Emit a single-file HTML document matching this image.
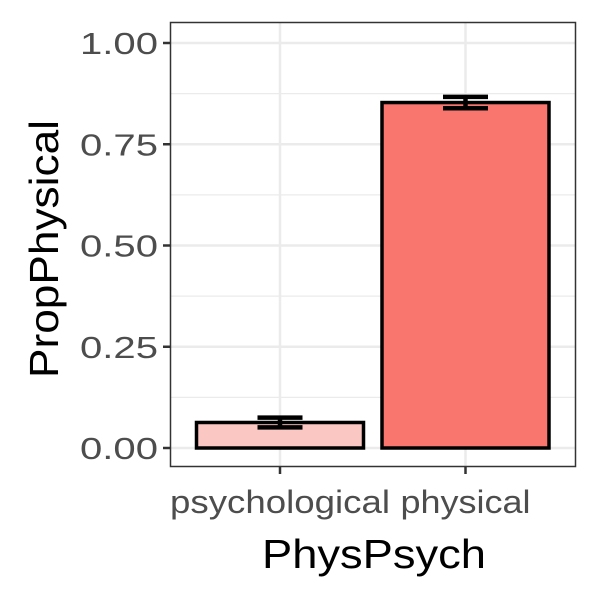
<!DOCTYPE html>
<html><head><meta charset="utf-8"><style>body{margin:0;background:#fff}svg{display:block;font-family:"Liberation Sans",sans-serif}</style></head>
<body>
<svg id="chart" width="600" height="600" viewBox="0 0 600 600">
<rect width="600" height="600" fill="#fff"/>
<g id="grid"></g><g id="bars"></g><g id="axes"></g>
<rect x="170.5" y="22.5" width="405" height="444" fill="none" stroke="#333" stroke-width="1.5"/>
<text x="262" y="568" font-size="41" textLength="224" lengthAdjust="spacingAndGlyphs" fill="#000">PhysPsych</text>
<text transform="translate(58,378) rotate(-90)" font-size="41" textLength="258" lengthAdjust="spacingAndGlyphs" fill="#000">PropPhysical</text>
</svg>
<script>
const categories=["psychological","physical"];
const values=[0.063,0.853];
const errors=[0.012,0.014];
const fills=["#FBC7C3","#F8766D"];
const yTicks=[0,0.25,0.5,0.75,1];
const yLabels=["0.00","0.25","0.50","0.75","1.00"];
const labelWidths=[220,130];
const NS="http://www.w3.org/2000/svg";
const y=v=>448-v*405;
const x=i=>280+i*185.5;
const bw=167, ww=45;
function mk(tag,attrs,parent,txt){const e=document.createElementNS(NS,tag);for(const k in attrs)e.setAttribute(k,attrs[k]);if(txt!==undefined)e.textContent=txt;document.getElementById(parent).appendChild(e);return e;}
for(let v=0;v<=1.0001;v+=0.125){const major=Math.abs(v*4-Math.round(v*4))<1e-6;
 const g=mk('line',{x1:171,x2:575,y1:y(v),y2:y(v),stroke:'#ebebeb','stroke-width':major?2.5:1.3},'grid');
 
 }
categories.forEach((c,i)=>{const g=mk('line',{x1:x(i),x2:x(i),y1:23,y2:466,stroke:'#ebebeb','stroke-width':2.5},'grid');
 
 });
categories.forEach((c,i)=>{
 const r=mk('rect',{x:x(i)-bw/2,y:y(values[i]),width:bw,height:y(0)-y(values[i]),fill:fills[i],stroke:'#000','stroke-width':3.5},'bars');
 
 
 const p=mk('path',{d:`M${x(i)-ww/2},${y(values[i]+errors[i])}H${x(i)+ww/2}M${x(i)},${y(values[i]+errors[i])}V${y(values[i]-errors[i])}M${x(i)-ww/2},${y(values[i]-errors[i])}H${x(i)+ww/2}`,fill:'none',stroke:'#000','stroke-width':4.5},'bars');
 
 
 const t=mk('line',{x1:x(i),x2:x(i),y1:467,y2:474,stroke:'#333','stroke-width':2.5},'axes');
 
 
 const l=mk('text',{x:x(i),y:513,'font-size':32,'text-anchor':'middle',textLength:labelWidths[i],lengthAdjust:'spacingAndGlyphs',fill:'#4d4d4d'},'axes',c);
 
 
});
yTicks.forEach((v,i)=>{
 const t=mk('line',{x1:163,x2:170,y1:y(v),y2:y(v),stroke:'#333','stroke-width':2.5},'axes');
 
 
 const l=mk('text',{x:80,y:y(v)+11,'font-size':31,textLength:78,lengthAdjust:'spacingAndGlyphs',fill:'#4d4d4d'},'axes',yLabels[i]);
 
 
});
</script>
</body></html>
